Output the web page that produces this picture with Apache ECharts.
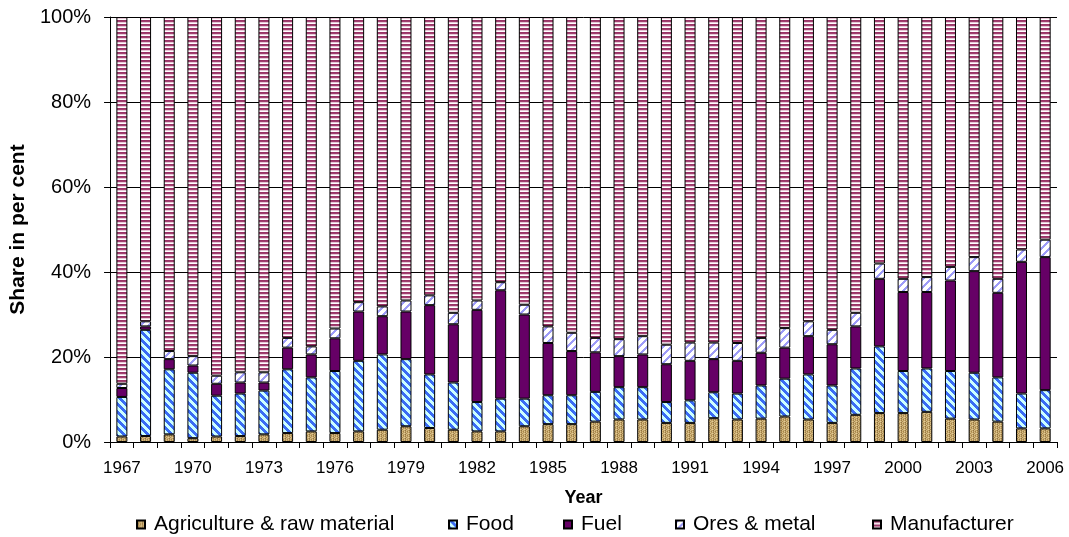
<!DOCTYPE html>
<html>
<head>
<meta charset="utf-8">
<script src="https://cdn.jsdelivr.net/npm/echarts@6/dist/echarts.min.js"></script>
<style>
html,body{margin:0;padding:0;background:#fff;}
#chart{width:1069px;height:537px;}
</style>
</head>
<body>
<div id="chart"></div>
<script>
const years = ['1967','1968','1969','1970','1971','1972','1973','1974','1975','1976','1977','1978','1979','1980','1981','1982','1983','1984','1985','1986','1987','1988','1989','1990','1991','1992','1993','1994','1995','1996','1997','1998','1999','2000','2001','2002','2003','2004','2005','2006'];
const agriculture = [1.3,1.4,1.8,0.9,1.3,1.4,1.8,2.1,2.5,2.1,2.5,2.9,3.7,3.3,2.9,2.5,2.5,3.7,4.2,4.2,4.8,5.3,5.3,4.5,4.5,5.6,5.3,5.5,6.0,5.3,4.5,6.4,6.8,6.8,7.1,5.5,5.3,4.8,3.2,3.2];
const food = [9.3,25.0,15.3,15.4,9.6,10.0,10.3,15.0,12.7,14.6,16.6,17.7,15.8,12.6,11.1,6.9,7.7,6.5,6.8,6.8,7.0,7.6,7.6,4.9,5.3,6.1,6.1,7.8,8.9,10.6,8.8,10.9,15.7,9.9,10.2,11.2,11.0,10.4,8.2,9.0];
const fuel = [2.1,0.8,2.4,1.7,2.8,2.6,1.9,5.1,5.4,7.7,11.6,9.0,11.2,16.3,13.7,21.7,25.5,19.8,12.3,10.4,9.3,7.3,7.7,8.9,9.3,7.8,7.7,7.7,7.3,9.0,9.7,9.9,15.9,18.6,18.0,21.3,23.9,19.9,31.0,31.3];
const ores = [1.0,1.2,1.9,2.2,1.9,2.4,2.4,2.3,1.9,2.3,2.2,2.3,2.6,2.3,2.7,2.2,1.9,2.3,3.9,4.3,3.4,4.0,4.3,4.6,4.3,3.9,4.2,3.5,4.6,3.5,3.4,3.2,3.6,3.1,3.5,3.2,3.3,3.3,2.9,4.1];
const manufacturer = [86.3,71.6,78.6,79.8,84.4,83.6,83.6,75.5,77.5,73.3,67.1,68.1,66.7,65.5,69.6,66.7,62.4,67.7,72.8,74.3,75.5,75.8,75.1,77.1,76.6,76.6,76.7,75.5,73.2,71.6,73.6,69.6,58.0,61.6,61.2,58.8,56.5,61.6,54.7,52.4];
const seriesNames = ['Agriculture & raw material','Food','Fuel','Ores & metal','Manufacturer'];
const yTicks = [0,20,40,60,80,100];

function makePattern(w, h, fn) {
  const c = document.createElement('canvas');
  c.width = w; c.height = h;
  const g = c.getContext('2d');
  for (let y = 0; y < h; y++) for (let x = 0; x < w; x++) {
    g.fillStyle = fn(x, y);
    g.fillRect(x, y, 1, 1);
  }
  return { image: c, repeat: 'repeat' };
}
const agriSpeck = ['#c9aa6e','#9c7d46','#d8bf88','#b8965a','#e2cc98','#c9aa6e','#a88a50','#d0b47c','#bfa064','#8f7240','#d8bf88','#c4a468','#dcc590','#b08f55','#c9aa6e','#a48548'];
const agriPat = makePattern(4, 4, (x, y) => agriSpeck[y * 4 + x]);
const foodPat = makePattern(8, 8, (x, y) => (((x - y) % 8 + 8) % 8) < 4 ? '#3a6cf4' : '#ccffff');
const oresPat = makePattern(8, 8, (x, y) => ((x + y) % 8) < 3 ? '#9e9cf8' : '#ffffff');
const manuPat = makePattern(4, 4, (x, y) => ['#993366','#a0406f','#e8c8d8','#ffffff'][y]);
const fills = [agriPat, foodPat, '#660066', oresPat, manuPat];
const values = [agriculture, food, fuel, ores, manufacturer];
const legendLeft = [136, 448, 563, 675, 872];

const chart = echarts.init(document.getElementById('chart'), null, { renderer: 'canvas' });
chart.setOption({
  animation: false,
  backgroundColor: '#ffffff',
  textStyle: { fontFamily: 'Liberation Sans, Arial, sans-serif', color: '#000' },
  grid: { left: 101, right: 12, top: 17, bottom: 95, containLabel: false },
  legend: seriesNames.map((n, i) => ({
    left: legendLeft[i], top: 514, padding: 0,
    itemWidth: 8, itemHeight: 8, itemGap: 0,
    icon: 'rect',
    textStyle: { fontSize: 21, color: '#000', fontFamily: 'Liberation Sans, Arial, sans-serif', padding: [0, 0, 12, 4] },
    data: [n]
  })),
  xAxis: {
    type: 'category',
    data: years,
    name: 'Year',
    nameLocation: 'middle',
    nameGap: 47,
    nameTextStyle: { fontSize: 18, fontWeight: 'bold', color: '#000' },
    axisLine: { lineStyle: { color: '#000', width: 1 } },
    axisTick: { show: true, length: 6, interval: 0, lineStyle: { color: '#000' } },
    axisLabel: { interval: 2, fontSize: 17, color: '#000', margin: 18 }
  },
  yAxis: {
    type: 'value',
    min: yTicks[0], max: yTicks[yTicks.length - 1], interval: 20,
    name: 'Share in per cent',
    nameLocation: 'middle',
    nameGap: 70,
    nameTextStyle: { fontSize: 21, fontWeight: 'bold', color: '#000' },
    axisLine: { show: true, lineStyle: { color: '#000', width: 1 } },
    axisTick: { show: true, length: 6, lineStyle: { color: '#000' } },
    axisLabel: { formatter: '{value}%', fontSize: 20, color: '#000', margin: 19 },
    splitLine: { show: true, lineStyle: { color: '#000', width: 1 } }
  },
  series: seriesNames.map((n, i) => ({
    name: n,
    type: 'bar',
    stack: 'total',
    barWidth: 11,
    data: values[i],
    itemStyle: { color: fills[i], borderColor: '#000', borderWidth: 1 }
  }))
});
</script>
</body>
</html>
